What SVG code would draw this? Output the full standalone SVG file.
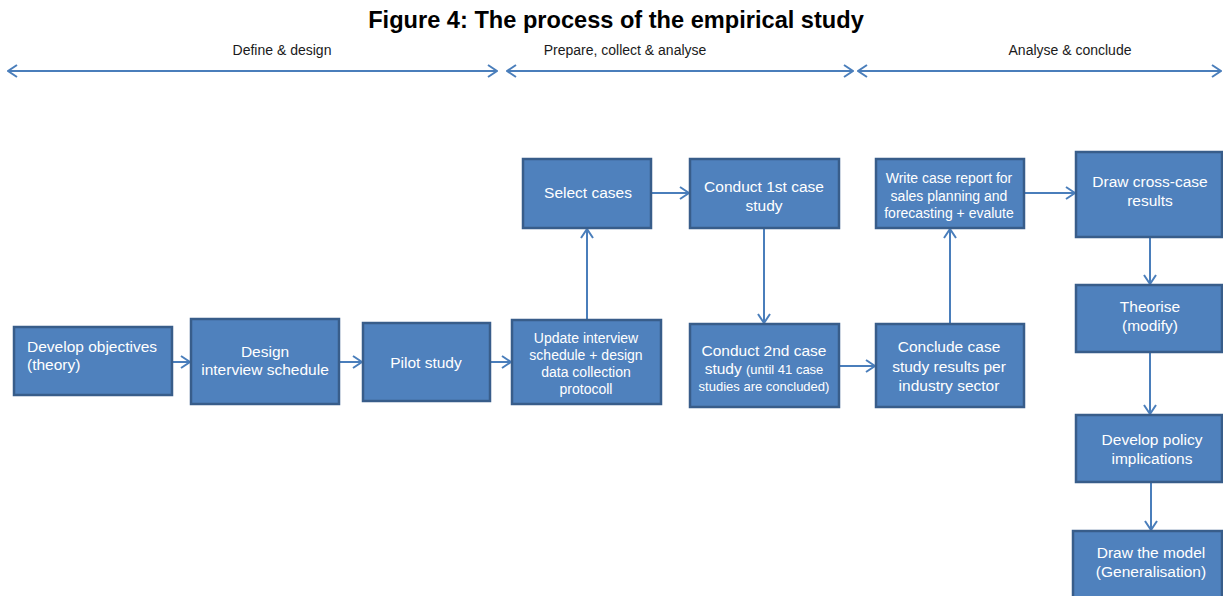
<svg xmlns="http://www.w3.org/2000/svg" width="1223" height="596" viewBox="0 0 1223 596">
  <style>
    .box { fill: #4F81BD; stroke: #385D8A; stroke-width: 2.5; }
    .t { font-family: "Liberation Sans", Arial, sans-serif; font-size: 15.5px; fill: #FFFFFF; text-anchor: middle; }
    .ts { font-size: 14px; }
    .tx { font-size: 13px; }
    .title { font-family: "Liberation Sans", Arial, sans-serif; font-size: 23.6px; font-weight: bold; fill: #000000; text-anchor: middle; }
    .phase { font-family: "Liberation Sans", Arial, sans-serif; font-size: 14px; fill: #1a1a1a; text-anchor: middle; }
    .conn { stroke: #4A7EBB; stroke-width: 2; fill: none; marker-end: url(#arrow); }
    .span { stroke: #4A7EBB; stroke-width: 2; fill: none; marker-start: url(#arrow); marker-end: url(#arrow); }
  </style>
  <defs>
    <marker id="arrow" viewBox="0 0 11 14" refX="10" refY="7" markerWidth="11" markerHeight="14" markerUnits="userSpaceOnUse" orient="auto-start-reverse">
      <path d="M1,1 L10,7 L1,13" fill="none" stroke="#4A7EBB" stroke-width="2"/>
    </marker>
  </defs>

  <rect width="1223" height="596" fill="#FFFFFF"/>

  <text class="title" x="616" y="28">Figure 4: The process of the empirical study</text>

  <!-- phase spans -->
  <g id="phases">
    <text class="phase" x="282" y="55">Define &amp; design</text>
    <text class="phase" x="625" y="55">Prepare, collect &amp; analyse</text>
    <text class="phase" x="1070" y="55">Analyse &amp; conclude</text>
    <line class="span" x1="8" y1="71" x2="497" y2="71"/>
    <line class="span" x1="507" y1="71" x2="853" y2="71"/>
    <line class="span" x1="858" y1="71" x2="1221" y2="71"/>
  </g>

  <!-- connectors -->
  <g id="connectors">
    <line class="conn" x1="172" y1="362" x2="190" y2="362"/>
    <line class="conn" x1="339" y1="362" x2="362" y2="362"/>
    <line class="conn" x1="490" y1="362" x2="511" y2="362"/>
    <line class="conn" x1="587" y1="320" x2="587" y2="229"/>
    <line class="conn" x1="651" y1="193" x2="689" y2="193"/>
    <line class="conn" x1="764" y1="228" x2="764" y2="323"/>
    <line class="conn" x1="839" y1="366" x2="875" y2="366"/>
    <line class="conn" x1="950" y1="324" x2="950" y2="229"/>
    <line class="conn" x1="1024" y1="193" x2="1075" y2="193" stroke="#7BA0CD" stroke-width="1.5"/>
    <line class="conn" x1="1150" y1="237" x2="1150" y2="284"/>
    <line class="conn" x1="1150" y1="352" x2="1150" y2="414"/>
    <line class="conn" x1="1151" y1="482" x2="1151" y2="530"/>
  </g>

  <g id="develop-objectives">
    <rect class="box" x="14" y="327" width="158" height="68"/>
    <text class="t" x="27" y="352" style="text-anchor:start">Develop objectives</text>
    <text class="t" x="27" y="370" style="text-anchor:start">(theory)</text>
  </g>

  <g id="design-schedule">
    <rect class="box" x="191" y="319" width="148" height="85"/>
    <text class="t" x="265" y="357">Design</text>
    <text class="t" x="265" y="375">interview schedule</text>
  </g>

  <g id="pilot-study">
    <rect class="box" x="363" y="323" width="127" height="78"/>
    <text class="t" x="426" y="368">Pilot study</text>
  </g>

  <g id="update-schedule">
    <rect class="box" x="512" y="320" width="149" height="84"/>
    <text class="t ts" x="586" y="343">Update interview</text>
    <text class="t ts" x="586" y="360">schedule + design</text>
    <text class="t ts" x="586" y="377">data collection</text>
    <text class="t ts" x="586" y="394">protocoll</text>
  </g>

  <g id="select-cases">
    <rect class="box" x="523" y="159" width="128" height="69"/>
    <text class="t" x="588" y="198">Select cases</text>
  </g>

  <g id="first-case">
    <rect class="box" x="690" y="159" width="149" height="69"/>
    <text class="t" x="764" y="192">Conduct 1st case</text>
    <text class="t" x="764" y="211">study</text>
  </g>

  <g id="second-case">
    <rect class="box" x="690" y="324" width="149" height="83"/>
    <text class="t" x="764" y="356">Conduct 2nd case</text>
    <text class="t" x="764" y="374">study <tspan class="tx">(until 41 case</tspan></text>
    <text class="t tx" x="764" y="391">studies are concluded)</text>
  </g>

  <g id="conclude-case">
    <rect class="box" x="876" y="324" width="148" height="83"/>
    <text class="t" x="949" y="352">Conclude case</text>
    <text class="t" x="949" y="372">study results per</text>
    <text class="t" x="949" y="391">industry sector</text>
  </g>

  <g id="write-report">
    <rect class="box" x="876" y="159" width="148" height="69"/>
    <text class="t ts" x="949" y="183">Write case report for</text>
    <text class="t ts" x="949" y="201">sales planning and</text>
    <text class="t ts" x="949" y="218">forecasting + evalute</text>
  </g>

  <g id="cross-case">
    <rect class="box" x="1076" y="152" width="146" height="85"/>
    <text class="t" x="1150" y="187">Draw cross-case</text>
    <text class="t" x="1150" y="206">results</text>
  </g>

  <g id="theorise">
    <rect class="box" x="1076" y="285" width="146" height="67"/>
    <text class="t" x="1150" y="312">Theorise</text>
    <text class="t" x="1150" y="331">(modify)</text>
  </g>

  <g id="policy">
    <rect class="box" x="1076" y="415" width="146" height="67"/>
    <text class="t" x="1152" y="445">Develop policy</text>
    <text class="t" x="1152" y="464">implications</text>
  </g>

  <g id="model">
    <rect class="box" x="1073" y="531" width="149" height="75"/>
    <text class="t" x="1151" y="558">Draw the model</text>
    <text class="t" x="1151" y="577">(Generalisation)</text>
  </g>
</svg>
